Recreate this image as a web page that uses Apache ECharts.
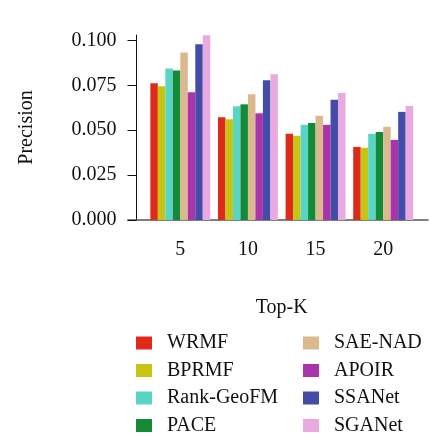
<!DOCTYPE html>
<html><head><meta charset="utf-8">
<script src="https://cdn.jsdelivr.net/npm/echarts@6/dist/echarts.min.js"></script>
<style>html,body{margin:0;padding:0;background:#fff}#c{width:430px;height:438px}</style>
</head><body><div id="c"></div>
<script>
const categories = ['5', '10', '15', '20'];
const seriesNames = ['WRMF', 'BPRMF', 'Rank-GeoFM', 'PACE', 'SAE-NAD', 'APOIR', 'SSANet', 'SGANet'];
const WRMF = [0.0761, 0.0572, 0.0480, 0.0407];
const BPRMF = [0.0744, 0.0561, 0.0469, 0.0402];
const RankGeoFM = [0.0844, 0.0633, 0.0530, 0.0480];
const PACE = [0.0833, 0.0644, 0.0540, 0.0490];
const SAENAD = [0.0933, 0.0700, 0.0580, 0.0519];
const APOIR = [0.0711, 0.0594, 0.0530, 0.0446];
const SSANet = [0.0978, 0.0778, 0.0669, 0.0602];
const SGANet = [0.1028, 0.0811, 0.0707, 0.0635];
const yTicks = ['0.000', '0.025', '0.050', '0.075', '0.100'];
const colors = ['#dd2a1b', '#c8c414', '#5ad4c4', '#128a36', '#dbb98e', '#a934ab', '#434ca6', '#e8aadf'];
const values = [WRMF, BPRMF, RankGeoFM, PACE, SAENAD, APOIR, SSANet, SGANet];

const font = 'Liberation Serif';
const chart = echarts.init(document.getElementById('c'), null, {renderer: 'canvas'});
const legendBase = {
  orient: 'vertical', itemWidth: 16, itemHeight: 13, itemGap: 7.5, padding: 0, height: 110,
  icon: 'rect', selectedMode: false,
  textStyle: {fontFamily: font, fontSize: 20, color: '#111', lineHeight: 20, padding: [0, 0, 0, 10]}
};
chart.setOption({
  animation: false,
  color: colors,
  grid: [
    {left: 146.5, right: 13, top: 35, bottom: 218, containLabel: false},
    {left: 128, right: 2, top: 35, bottom: 218, containLabel: false}
  ],
  legend: [
    Object.assign({}, legendBase, {left: 136, top: 333, data: seriesNames.slice(0, 4)}),
    Object.assign({}, legendBase, {left: 303, top: 333, data: seriesNames.slice(4)})
  ],
  xAxis: [{
    type: 'category', data: categories, gridIndex: 0,
    name: 'Top-K', nameLocation: 'middle', nameGap: 78,
    nameTextStyle: {fontFamily: font, fontSize: 20, color: '#111'},
    axisLine: {show: false},
    axisTick: {alignWithLabel: true, length: 9, lineStyle: {color: '#111', width: 1.5}},
    axisLabel: {fontFamily: font, fontSize: 20, color: '#111', margin: 20}
  }, {
    type: 'value', gridIndex: 1, min: 0, max: 1,
    axisLine: {show: true, lineStyle: {color: '#555', width: 1.5}},
    axisTick: {show: false}, axisLabel: {show: false}, splitLine: {show: false}
  }],
  yAxis: [{
    type: 'value', min: 0, max: 0.103, interval: 0.025, gridIndex: 0, offset: 10,
    name: 'Precision', nameLocation: 'middle', nameGap: 100,
    nameTextStyle: {fontFamily: font, fontSize: 20, color: '#111'},
    splitLine: {show: false},
    axisLine: {show: true, lineStyle: {color: '#111', width: 1}},
    axisTick: {show: true, length: 9, lineStyle: {color: '#111'}},
    axisLabel: {fontFamily: font, fontSize: 20, color: '#111', margin: 20, showMaxLabel: false,
      formatter: function (v) { const i = Math.round(v / 0.025); return yTicks[i] !== undefined ? yTicks[i] : ''; }}
  }, {
    type: 'value', gridIndex: 1, show: false
  }],
  series: seriesNames.map((n, i) => ({
    name: n, type: 'bar', data: values[i], barGap: '0%', barCategoryGap: '11.4%',
    itemStyle: {color: colors[i]}
  }))
});
</script></body></html>
